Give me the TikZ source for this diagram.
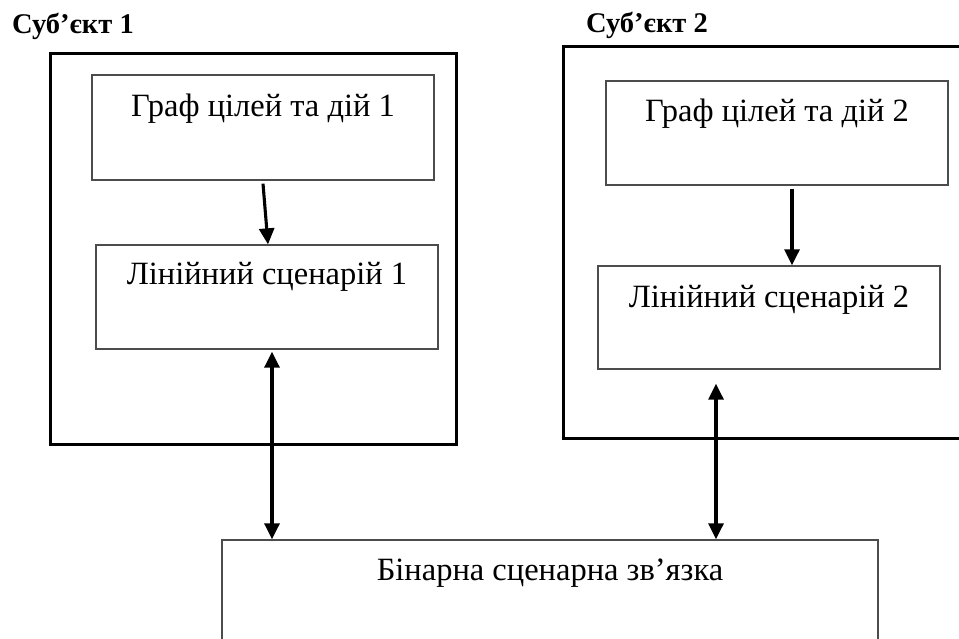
\documentclass[tikz,border=0pt]{standalone}
\usepackage{fontspec}
\setmainfont{Liberation Serif}
\usetikzlibrary{arrows.meta}
\begin{document}
\begin{tikzpicture}[x=1pt,y=-1pt,
  outer/.style={draw=black,line width=3pt,rectangle,inner sep=0pt},
  inbox/.style={draw=black!70,line width=1.3pt,rectangle,inner sep=0pt,
    inner xsep=0pt,anchor=base,font=\fontsize{32.5}{38}\selectfont},
  subj/.style={anchor=base west,inner sep=0pt,font=\fontsize{28.5}{32}\selectfont\bfseries},
  arr/.style={line width=3.1pt,-{Triangle[length=16pt,width=15pt]}},
  darr/.style={line width=3.1pt,{Triangle[length=16pt,width=15pt]}-{Triangle[length=16pt,width=15pt]}}]
\useasboundingbox (0,0) rectangle (959,639);
\fill[white] (0,0) rectangle (959,639);
% outer subject frames
\node[outer,minimum width=406pt,minimum height=390pt] (s1) at (253,249) {};
\node[outer,minimum width=412pt,minimum height=391pt] (s2) at (769,242.5) {};
% subject labels
\node[subj] (t1) at (12,34) {Суб’єкт 1};
\node[subj] (t2) at (586,33) {Суб’єкт 2};
% inner boxes
\node[inbox,minimum width=342pt,text height=42pt,text depth=63pt] (g1) at (263,117) {Граф цілей та дій 1};
\node[inbox,minimum width=342pt,text height=40pt,text depth=64pt] (l1) at (267,285) {Лінійний сценарій 1};
\node[inbox,minimum width=342pt,text height=41pt,text depth=63pt] (g2) at (777,122) {Граф цілей та дій 2};
\node[inbox,minimum width=342pt,text height=41pt,text depth=62pt] (l2) at (769,307) {Лінійний сценарій 2};
\node[inbox,minimum width=656pt,text height=40pt,text depth=100pt] (b) at (550,580) {Бінарна сценарна зв’язка};
% connectors
\draw[arr] ([yshift=-3pt]g1.south) -- ([xshift=1pt]l1.north);
\draw[arr] ([xshift=15pt,yshift=-3pt]g2.south) -- ([xshift=23pt]l2.north);
\draw[darr] ([xshift=5pt,yshift=-2pt]l1.south) -- ([xshift=5pt]l1.south |- b.north);
\draw[darr] ([xshift=-53pt,yshift=-14pt]l2.south) -- ([xshift=-53pt]l2.south |- b.north);
\end{tikzpicture}
\end{document}
